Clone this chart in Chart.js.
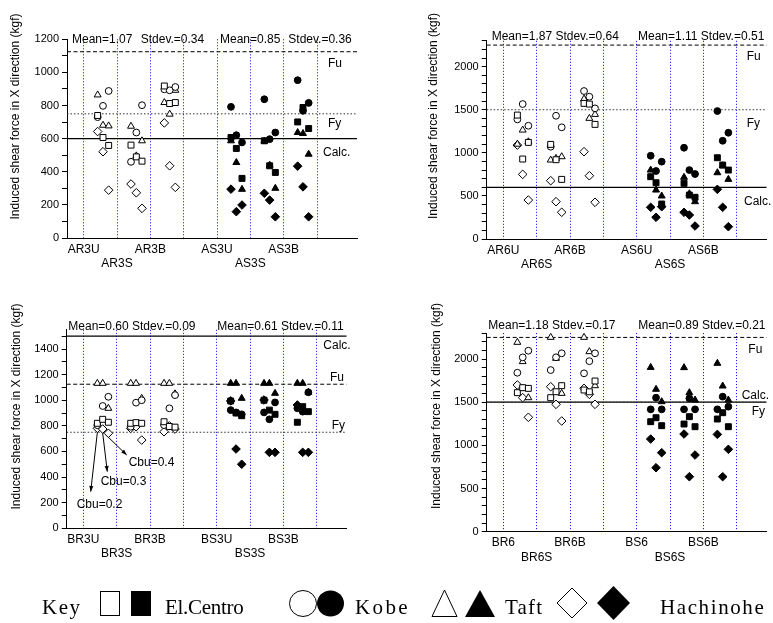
<!DOCTYPE html>
<html>
<head>
<meta charset="utf-8">
<script src="https://cdn.jsdelivr.net/npm/chart.js@4.4.0/dist/chart.umd.min.js"></script>
<style>
  body { margin: 0; background: #fff; }
  #wrap { position: relative; width: 773px; height: 623px; overflow: hidden; }
  canvas, svg { position: absolute; left: 0; top: 0; }
</style>
</head>
<body>
<div id="wrap">
  <canvas id="c1" width="773" height="623"></canvas>
  <canvas id="c2" width="773" height="623"></canvas>
  <canvas id="c3" width="773" height="623"></canvas>
  <canvas id="c4" width="773" height="623"></canvas>
  <svg id="key" width="773" height="623" font-family="'Liberation Serif', 'Times New Roman', serif" font-size="21">
    <text x="42" y="614" letter-spacing="1.5">Key</text>
    <rect x="100.5" y="591.5" width="19" height="24" fill="#fff" stroke="#000"/>
    <rect x="131" y="591" width="20" height="25" fill="#000"/>
    <text x="165" y="614" letter-spacing="-0.3">El.Centro</text>
    <ellipse cx="303" cy="603.5" rx="13.5" ry="13" fill="#fff" stroke="#000"/>
    <ellipse cx="330.5" cy="603.5" rx="13.5" ry="13" fill="#000"/>
    <text x="355" y="614" letter-spacing="2.4">Kobe</text>
    <polygon points="444.5,590 457,616.5 432,616.5" fill="#fff" stroke="#000"/>
    <polygon points="480,590 495,617 465,617" fill="#000"/>
    <text x="505" y="614" letter-spacing="1.2">Taft</text>
    <polygon points="572,588 587,603 572,618 557,603" fill="#fff" stroke="#000"/>
    <polygon points="613.5,586 630,603 613.5,620 597,603" fill="#000"/>
    <text x="660" y="614" letter-spacing="1.6">Hachinohe</text>
  </svg>
</div>
<script>
// x positions of the six groups, and the three Cbu columns inside each group
const groupPos = [1, 2, 3, 5, 6, 7];
const cbuOffset = [0.42, 0.58, 0.75];
const cbuLabels = ['Cbu=0.2', 'Cbu=0.3', 'Cbu=0.4'];
const limitNames = ['Fu', 'Fy', 'Calc.'];

// top left (3 storey, A)
const p1Labels = ['AR3U', 'AR3S', 'AR3B', 'AS3U', 'AS3S', 'AS3B'];
const p1ElCentro = [[740, 607, 559], [561, 490, 464], [918, 812, 818], [607, 541, 360], [587, 436, 396], [701, 788, 661]];
const p1Kobe = [[730, 798, 888], [460, 637, 802], [898, 892, 912], [792, 621, 577], [838, 597, 637], [953, 768, 816]];
const p1Taft = [[864, 681, 677], [675, 496, 587], [818, 748, 892], [587, 456, 294], [585, 440, 300], [637, 631, 506]];
const p1Hachinohe = [[643, 521, 289], [326, 273, 179], [695, 436, 306], [295, 159, 199], [270, 229, 128], [434, 309, 128]];
const p1Limits = [1125, 750, 600];
const p1Stats = ['Mean=1.07', 'Stdev.=0.34', 'Mean=0.85', 'Stdev.=0.36'];

// top right (6 storey, A)
const p2Labels = ['AR6U', 'AR6S', 'AR6B', 'AS6U', 'AS6S', 'AS6B'];
const p2ElCentro = [[1438, 928, 1121], [1098, 920, 692], [1574, 1566, 1330], [723, 653, 406], [646, 510, 484], [943, 858, 800]];
const p2Kobe = [[1388, 1566, 1314], [1071, 1430, 1296], [1717, 1651, 1516], [966, 789, 897], [1059, 800, 754], [1485, 1140, 1233]];
const p2Taft = [[1100, 1264, 1128], [916, 935, 955], [1624, 1400, 1446], [800, 568, 499], [716, 525, 433], [769, 850, 692]];
const p2Hachinohe = [[1090, 750, 452], [677, 433, 310], [1013, 734, 426], [368, 252, 375], [310, 278, 151], [576, 368, 143]];
const p2Limits = [2250, 1500, 600];
const p2Stats = ['Mean=1.87 Stdev.=0.64', 'Mean=1.11 Stdev.=0.51'];

// bottom left (3 storey, B)
const p3Labels = ['BR3U', 'BR3S', 'BR3B', 'BS3U', 'BS3S', 'BS3B'];
const p3ElCentro = [[820, 851, 828], [820, 825, 820], [832, 795, 790], [994, 900, 879], [1000, 923, 890], [828, 950, 911]];
const p3Kobe = [[805, 955, 1027], [793, 981, 1000], [806, 937, 1040], [923, 905, 890], [905, 851, 983], [937, 911, 1062]];
const p3Taft = [[1132, 1132, 937], [1132, 1132, 1015], [1132, 1132, 1050], [1132, 1132, 1015], [1132, 1132, 1054], [1132, 1132, 1062]];
const p3Hachinohe = [[781, 775, 742], [780, 793, 689], [754, 800, 775], [995, 619, 500], [1002, 593, 593], [963, 593, 593]];
const p3Limits = [1125, 750, 1500];
const p3Stats = ['Mean=0.60 Stdev.=0.09', 'Mean=0.61 Stdev.=0.11'];

// bottom right (6 storey, B)
const p4Labels = ['BR6', 'BR6S', 'BR6B', 'BS6', 'BS6S', 'BS6B'];
const p4ElCentro = [[1610, 1668, 1660], [1552, 1621, 1691], [1641, 1620, 1745], [1274, 1320, 1228], [1247, 1332, 1216], [1305, 1378, 1216]];
const p4Kobe = [[1841, 2019, 2096], [1872, 2020, 2066], [1834, 1975, 2066], [1417, 1552, 1417], [1417, 1544, 1417], [1417, 1564, 1448]];
const p4Taft = [[2193, 1970, 1552], [2251, 2008, 1602], [2251, 2085, 1691], [1903, 1649, 1506], [1900, 1610, 1525], [1950, 1687, 1525]];
const p4Hachinohe = [[1699, 1552, 1325], [1679, 1475, 1282], [1660, 1591, 1475], [1073, 741, 915], [1131, 637, 888], [1127, 637, 954]];
const p4Limits = [2250, 1500, 1500];
const p4Stats = ['Mean=1.18 Stdev.=0.17', 'Mean=0.89 Stdev.=0.21'];

const yTitle = 'Induced shear force in X direction (kgf)';

Chart.defaults.font.family = '"Liberation Sans", Arial, sans-serif';
Chart.defaults.color = '#000';

function points(groups) {
    const out = [];
    groups.forEach((vals, g) => {
        vals.forEach((v, i) => out.push({ x: groupPos[g] + cbuOffset[i], y: v }));
    });
    return out;
}

// middle label of each trio goes on the second row
function tickLabels(labels) {
    const map = {};
    labels.forEach((l, i) => { map[groupPos[i]] = (i % 3 === 1) ? ['', l] : l; });
    return v => map[v] || '';
}

function limitSets(vals, xMax) {
    const styles = [
        { borderDash: [4, 2.5], borderColor: '#000', borderWidth: 1 },
        { borderDash: [1.5, 2], borderColor: '#333', borderWidth: 1 },
        { borderDash: [], borderColor: '#000', borderWidth: 1.3 }
    ];
    return vals.map((v, i) => Object.assign({
        type: 'line',
        data: [{ x: 0.5, y: v }, { x: xMax, y: v }],
        pointRadius: 0,
        fill: false,
        order: 10
    }, styles[i]));
}

const quakeStyles = [['rect', 4.2], ['circle', 3.4], ['triangle', 4], ['rectRot', 4.3]];

function quakeSets(series) {
    return series.map((s, k) => ({
        data: points(s),
        pointStyle: quakeStyles[k][0],
        pointRadius: quakeStyles[k][1],
        pointBorderWidth: 1,
        pointBorderColor: '#000',
        // R groups hollow, S groups filled
        pointBackgroundColor: ctx => (ctx.raw && ctx.raw.x > 4) ? '#000' : '#fff',
        order: 1
    }));
}

function xScale(max, labels) {
    return {
        type: 'linear',
        min: 0.5,
        max: max,
        afterBuildTicks: s => { s.ticks = [1, 2, 3, 4, 5, 6, 7, 8].map(v => ({ value: v })); },
        afterFit: s => { s.height = 32; },
        border: { color: '#000', width: 1, dash: [1, 2] },
        grid: { color: '#0000ff', lineWidth: 1, drawTicks: false },
        ticks: {
            autoSkip: false, maxRotation: 0, padding: 4,
            font: { size: 12 },
            callback: tickLabels(labels)
        }
    };
}

function yScale(max, every) {
    return {
        type: 'linear',
        min: 0,
        max: max,
        afterFit: s => { s.width = 50; },
        border: { color: '#000', width: 1 },
        grid: { drawOnChartArea: false, tickLength: 5, tickColor: '#000' },
        ticks: {
            stepSize: 100, autoSkip: false, includeBounds: false, padding: 3,
            font: { size: 11 },
            callback: v => (v % every === 0 ? v : '')
        }
    };
}

const notesPlugin = {
    id: 'notes',
    afterDraw(chart, args, opts) {
        const ctx = chart.ctx;
        ctx.save();
        ctx.fillStyle = '#000';
        ctx.strokeStyle = '#000';
        ctx.font = '12px "Liberation Sans", Arial, sans-serif';
        ctx.textBaseline = 'middle';
        ctx.textAlign = 'left';
        opts.texts.forEach(t => ctx.fillText(t[0], t[1], t[2]));

        // Cbu arrows (only one panel has them)
        if (opts.arrows) {
            const xs = chart.scales.x, ys = chart.scales.y;
            opts.arrows.forEach(a => {
                const x0 = xs.getPixelForValue(a.from[0]);
                const y0 = ys.getPixelForValue(a.from[1]) + 4;
                const x1 = a.to[0], y1 = a.to[1];
                const ang = Math.atan2(y1 - y0, x1 - x0);
                ctx.lineWidth = 1;
                ctx.beginPath();
                ctx.moveTo(x0, y0);
                ctx.lineTo(x1, y1);
                ctx.stroke();
                ctx.beginPath();
                ctx.moveTo(x1, y1);
                ctx.lineTo(x1 - 6 * Math.cos(ang - 0.35), y1 - 6 * Math.sin(ang - 0.35));
                ctx.lineTo(x1 - 6 * Math.cos(ang + 0.35), y1 - 6 * Math.sin(ang + 0.35));
                ctx.closePath();
                ctx.fill();
                ctx.textAlign = 'center';
                ctx.fillText(a.label, a.at[0], a.at[1]);
            });
        }

        const ti = opts.title;
        ctx.translate(ti[1], ti[2]);
        ctx.rotate(-Math.PI / 2);
        ctx.textAlign = 'center';
        ctx.fillText(ti[0], 0, 0);
        ctx.restore();
    }
};

function makePanel(id, cfg) {
    new Chart(document.getElementById(id), {
        type: 'scatter',
        data: { datasets: limitSets(cfg.limits, cfg.xMax).concat(quakeSets(cfg.series)) },
        options: {
            responsive: false,
            animation: false,
            devicePixelRatio: 1,
            layout: { padding: cfg.pad },
            plugins: {
                legend: { display: false },
                tooltip: { enabled: false },
                notes: cfg.notes
            },
            scales: {
                x: xScale(cfg.xMax, cfg.labels),
                y: yScale(cfg.yMax, cfg.every)
            }
        },
        plugins: [notesPlugin]
    });
}

makePanel('c1', {
    labels: p1Labels,
    series: [p1ElCentro, p1Kobe, p1Taft, p1Hachinohe],
    limits: p1Limits,
    xMax: 9.2, yMax: 1200, every: 200,
    pad: { left: 17, right: 416, top: 39.3, bottom: 353 },
    notes: {
        title: [yTitle, 16, 116.5],
        texts: [
            [p1Stats[0], 72, 39.5], [p1Stats[1], 140.7, 39.5], [p1Stats[2], 220, 39.5], [p1Stats[3], 288.3, 39.5],
            [limitNames[0], 328, 63.3], [limitNames[1], 328, 124], [limitNames[2], 323, 152.7]
        ]
    }
});

makePanel('c2', {
    labels: p2Labels,
    series: [p2ElCentro, p2Kobe, p2Taft, p2Hachinohe],
    limits: p2Limits,
    xMax: 8.9, yMax: 2300, every: 500,
    pad: { left: 436.7, right: 6.3, top: 40.8, bottom: 352 },
    notes: {
        title: [yTitle, 434, 116],
        texts: [
            [p2Stats[0], 491.7, 36.7], [p2Stats[1], 638, 36.7],
            [limitNames[0], 746.7, 56.7], [limitNames[1], 746.7, 123.3], [limitNames[2], 744, 201.7]
        ]
    }
});

makePanel('c3', {
    labels: p3Labels,
    series: [p3ElCentro, p3Kobe, p3Taft, p3Hachinohe],
    limits: p3Limits,
    xMax: 8.9, yMax: 1550, every: 200,
    pad: { left: 16.7, right: 426.3, top: 329.8, bottom: 62.7 },
    notes: {
        title: [yTitle, 16.7, 406.5],
        texts: [
            [p3Stats[0], 68.3, 326.7], [p3Stats[1], 217.3, 326.7],
            [limitNames[0], 330, 377.7], [limitNames[1], 331.7, 425.7], [limitNames[2], 323.3, 346]
        ],
        arrows: [
            { from: [groupPos[0] + cbuOffset[0], p3Hachinohe[0][0]], to: [90.7, 491.7], label: cbuLabels[0], at: [99.5, 505] },
            { from: [groupPos[0] + cbuOffset[1], p3Hachinohe[0][1]], to: [107.3, 471.7], label: cbuLabels[1], at: [123.5, 482] },
            { from: [groupPos[0] + cbuOffset[2], p3Hachinohe[0][2]], to: [126.7, 455], label: cbuLabels[2], at: [151.5, 463] }
        ]
    }
});

makePanel('c4', {
    labels: p4Labels,
    series: [p4ElCentro, p4Kobe, p4Taft, p4Hachinohe],
    limits: p4Limits,
    xMax: 8.9, yMax: 2300, every: 500,
    pad: { left: 436.7, right: 6.3, top: 333.1, bottom: 59.3 },
    notes: {
        title: [yTitle, 436.7, 406],
        texts: [
            [p4Stats[0], 488.3, 326], [p4Stats[1], 638.3, 326],
            [limitNames[0], 748.3, 350], [limitNames[1], 751.7, 411.7], [limitNames[2], 741.7, 395.7]
        ]
    }
});
</script>
</body>
</html>
